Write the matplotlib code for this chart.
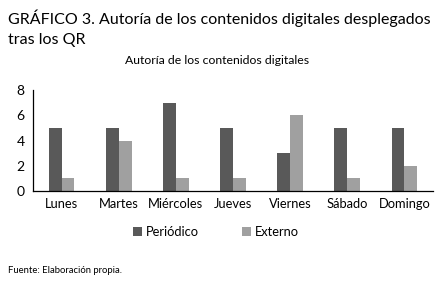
import matplotlib
matplotlib.use("Agg")
import matplotlib.pyplot as plt
import numpy as np

categories = ["Lunes", "Martes", "Miércoles", "Jueves", "Viernes", "Sábado", "Domingo"]
periodico = [5, 5, 7, 5, 3, 5, 5]
externo = [1, 4, 1, 1, 6, 1, 2]
yticks = [0, 2, 4, 6, 8]

plt.rcParams['font.family'] = ['Lato', 'DejaVu Sans']

fig = plt.figure(figsize=(4.41, 2.86), dpi=100)
ax = fig.add_axes([33/441, 1 - 191/286, 400/441, 101/286])

x = np.arange(len(categories))
w = 0.225
ax.bar(x - w/2, periodico, w, color="#595959", label="Periódico")
ax.bar(x + w/2, externo, w, color="#a0a0a0", label="Externo")

ax.set_xlim(-0.5, len(categories) - 0.5)
ax.set_ylim(0, 8)
ax.set_yticks(yticks)
ax.set_xticks(x)
ax.set_xticklabels(categories, fontsize=9.3)
ax.tick_params(axis='x', length=0, pad=5)
ax.tick_params(axis='y', length=0, pad=6, labelsize=10)
for s in ["top", "right"]:
    ax.spines[s].set_visible(False)
for s in ["left", "bottom"]:
    ax.spines[s].set_color("black")
    ax.spines[s].set_linewidth(0.9)

fig.text(8/441, 1 - 24/286, "GRÁFICO 3. Autoría de los contenidos digitales desplegados",
         fontsize=11.5, ha="left", va="baseline")
fig.text(8/441, 1 - 44/286, "tras los QR", fontsize=11.5, ha="left", va="baseline")
fig.text(217/441, 1 - 64/286, "Autoría de los contenidos digitales", fontsize=8.8,
         ha="center", va="baseline")
fig.text(8/441, 1 - 273/286, "Fuente: Elaboración propia.", fontsize=6.8,
         ha="left", va="baseline")

leg = fig.legend(loc="center", bbox_to_anchor=(0.49, 1 - 232/286), ncol=2, frameon=False,
                 fontsize=9.3, handlelength=0.7, handleheight=0.7, handletextpad=0.3,
                 columnspacing=3.3)

fig.savefig("out.png", dpi=100)
